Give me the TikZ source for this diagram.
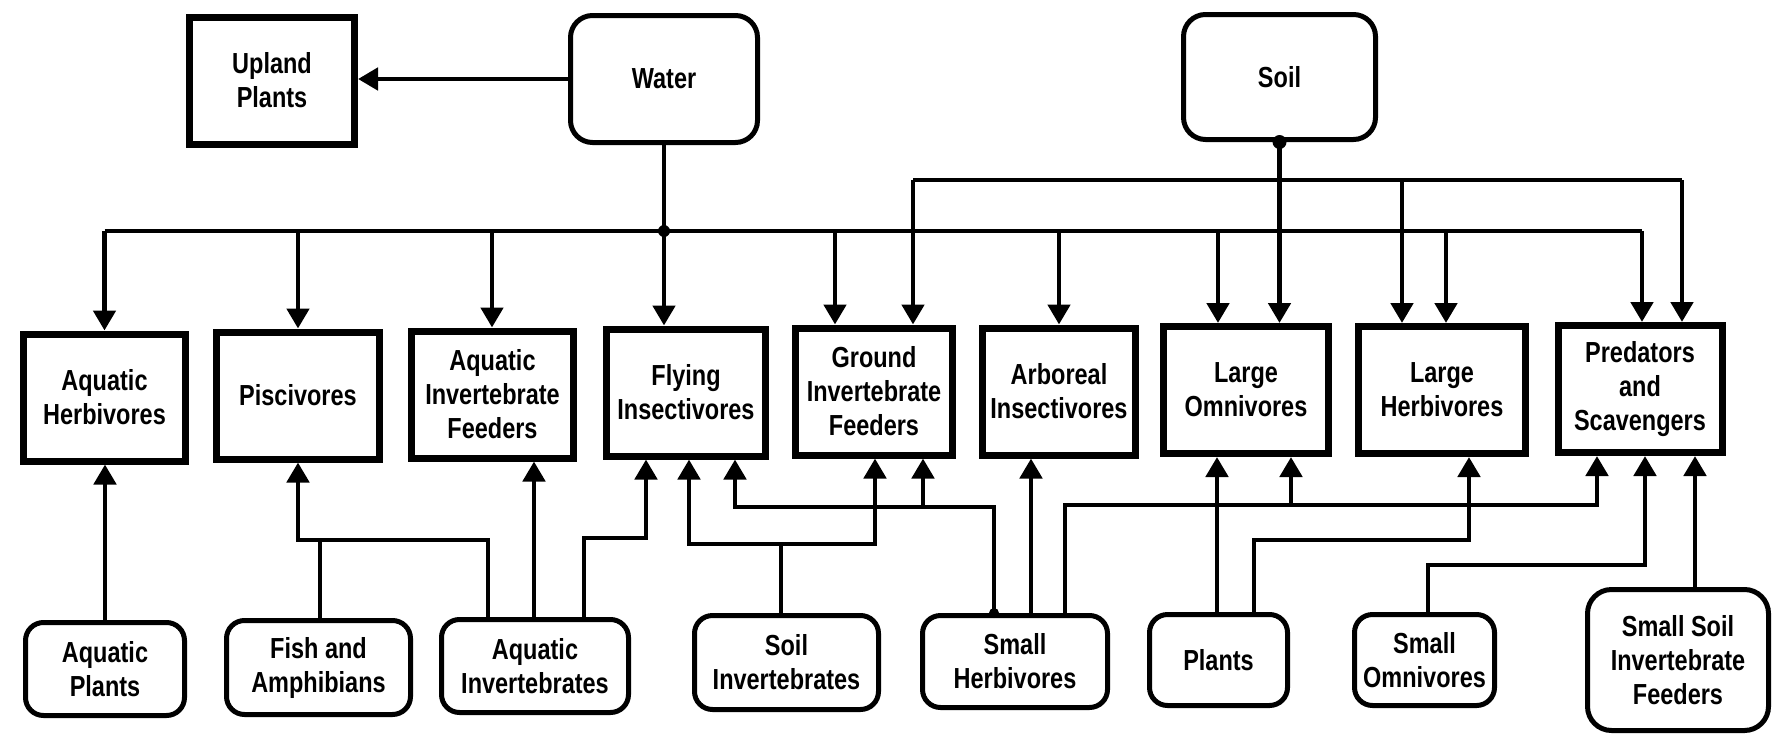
\documentclass[tikz,border=0pt]{standalone}
\usepackage{fontspec}
\setmainfont{Liberation Sans}[FakeStretch=0.81]
\usetikzlibrary{arrows.meta}
\begin{document}
\begin{tikzpicture}[x=0.5pt,y=-0.5pt,
  every node/.style={font=\fontsize{14.5}{17}\selectfont\bfseries, align=center, inner sep=0pt},
  sqbox/.style n args={2}{draw, line width=3.5pt, minimum width=#1*0.5pt, minimum height=#2*0.5pt},
  rbox/.style n args={2}{draw, line width=2.5pt, rounded corners=9pt, minimum width=#1*0.5pt, minimum height=#2*0.5pt},
  conn/.style={line width=2.4pt},
  arr/.style={conn, -{Triangle[width=11pt,length=10pt]}},
  jdot/.style={fill=black}]
\useasboundingbox (0,0) rectangle (1772,734);

% top row
\node[sqbox={165}{127}] (UP) at (272,80.5) {Upland\\Plants};
\node[rbox={187}{127}, rounded corners=11pt] (W) at (664,79) {Water};
\node[rbox={192}{125}, rounded corners=11pt] (S) at (1279.5,77) {Soil};

% middle row
\node[sqbox={162}{127}] (AH) at (104.5,397.5) {Aquatic\\Herbivores};
\node[sqbox={163}{127}] (Pisc) at (298,395.5) {Piscivores};
\node[sqbox={162}{127}] (AIF) at (492.5,394.5) {Aquatic\\Invertebrate\\Feeders};
\node[sqbox={159}{127}] (FI) at (686,392.5) {Flying\\Insectivores};
\node[sqbox={157}{127}] (GIF) at (874,391.5) {Ground\\Invertebrate\\Feeders};
\node[sqbox={153}{127}] (ArbI) at (1059,391.5) {Arboreal\\Insectivores};
\node[sqbox={165}{127}] (LO) at (1246,390) {Large\\Omnivores};
\node[sqbox={167}{127}] (LH) at (1442,390) {Large\\Herbivores};
\node[sqbox={164}{127}] (PS) at (1640,389) {Predators\\and\\Scavengers};

% bottom row
\node[rbox={159}{93}] (AP) at (105,669) {Aquatic\\Plants};
\node[rbox={184}{94}] (FA) at (318.5,667.5) {Fish and\\Amphibians};
\node[rbox={187}{93}] (AI) at (535,666) {Aquatic\\Invertebrates};
\node[rbox={184}{94}] (SI) at (786.5,662.5) {Soil\\Invertebrates};
\node[rbox={185}{92}] (SH) at (1015,661.5) {Small\\Herbivores};
\node[rbox={138}{91}] (Pl) at (1218.5,660) {Plants};
\node[rbox={140}{91}] (SO) at (1424.5,660) {Small\\Omnivores};
\node[rbox={181}{141}, rounded corners=12pt] (SSIF) at (1678,660) {Small Soil\\Invertebrate\\Feeders};

% Water
\draw[arr] (W.west) -- (W.west -| UP.east);
\coordinate (wj) at (664,231);
\draw[conn] (W.south) -- (wj);
\draw[arr] (wj) -- (wj |- FI.north);
\coordinate (wL) at (104.5,231);
\coordinate (wR) at (1642,231);
\draw[conn] (wL) -- (wR);
\draw[arr] (wL) -- (wL |- AH.north);
\coordinate (w2) at (298,231);
\draw[arr] (w2) -- (w2 |- Pisc.north);
\coordinate (w3) at (492,231);
\draw[arr] (w3) -- (w3 |- AIF.north);
\coordinate (w5) at (835,231);
\draw[arr] (w5) -- (w5 |- GIF.north);
\coordinate (w6) at (1059,231);
\draw[arr] (w6) -- (w6 |- ArbI.north);
\coordinate (w7) at (1218,231);
\draw[arr] (w7) -- (w7 |- LO.north);
\coordinate (w8) at (1446,231);
\draw[arr] (w8) -- (w8 |- LH.north);
\draw[arr] (wR) -- (wR |- PS.north);
\fill[jdot] (wj) circle (3pt);

% Soil
\draw[arr] (S.south) -- (S.south |- LO.north);
\fill[jdot] (S.south) circle (3.5pt);
\coordinate (sL) at (913,180);
\coordinate (sR) at (1682,180);
\draw[conn] (sL) -- (sR);
\draw[arr] (sL) -- (sL |- GIF.north);
\coordinate (s3) at (1402,180);
\draw[arr] (s3) -- (s3 |- LH.north);
\draw[arr] (sR) -- (sR |- PS.north);

% bottom connections
\draw[arr] (AP.north) -- (AP.north |- AH.south);
\coordinate (k1) at (298,540);
\coordinate (k2) at (488,540);
\coordinate (k3) at (320,540);
\draw[arr] (k2 |- AI.north) -- (k2) -- (k1) -- (k1 |- Pisc.south);
\draw[conn] (k3 |- FA.north) -- (k3);
\coordinate (k4) at (534,500);
\draw[arr] (k4 |- AI.north) -- (k4 |- AIF.south);
\coordinate (k5) at (584,538);
\coordinate (k6) at (646,538);
\draw[arr] (k5 |- AI.north) -- (k5) -- (k6) -- (k6 |- FI.south);

\coordinate (m1) at (781,544);
\coordinate (m2) at (689,544);
\coordinate (m3) at (875,544);
\draw[conn] (m1 |- SI.north) -- (m1);
\draw[arr] (m1) -- (m2) -- (m2 |- FI.south);
\draw[arr] (m1) -- (m3) -- (m3 |- GIF.south);

\coordinate (n1) at (994,507);
\coordinate (n2) at (735,507);
\coordinate (n3) at (923,507);
\draw[arr] (n1 |- SH.north) -- (n1) -- (n2) -- (n2 |- FI.south);
\draw[arr] (n3) -- (n3 |- GIF.south);
\fill[jdot] (n1 |- SH.north) circle (2.5pt);
\coordinate (n4) at (1031,500);
\draw[arr] (n4 |- SH.north) -- (n4 |- ArbI.south);
\coordinate (n5) at (1065,505);
\coordinate (n6) at (1597,505);
\coordinate (n7) at (1291,505);
\draw[arr] (n5 |- SH.north) -- (n5) -- (n6) -- (n6 |- PS.south);
\draw[arr] (n7) -- (n7 |- LO.south);

\coordinate (q1) at (1217,500);
\draw[arr] (q1 |- Pl.north) -- (q1 |- LO.south);
\coordinate (q2) at (1254,540);
\coordinate (q3) at (1469,540);
\draw[arr] (q2 |- Pl.north) -- (q2) -- (q3) -- (q3 |- LH.south);

\coordinate (r1) at (1428,565);
\coordinate (r2) at (1645,565);
\draw[arr] (r1 |- SO.north) -- (r1) -- (r2) -- (r2 |- PS.south);
\coordinate (r3) at (1695,500);
\draw[arr] (r3 |- SSIF.north) -- (r3 |- PS.south);
\end{tikzpicture}
\end{document}
